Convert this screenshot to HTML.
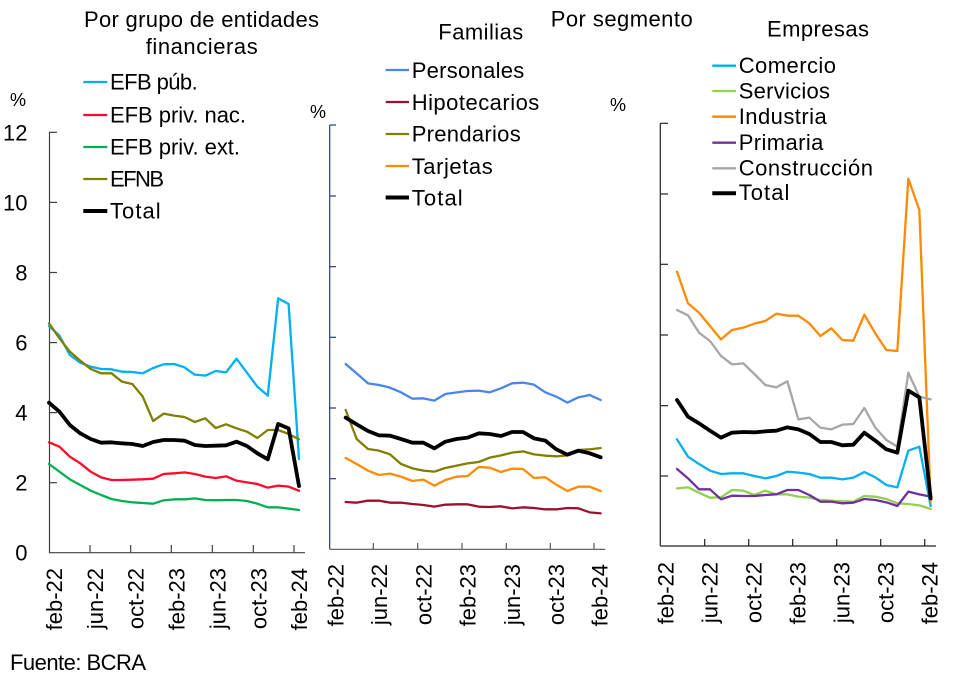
<!DOCTYPE html>
<html><head><meta charset="utf-8">
<style>
html,body{margin:0;padding:0;background:#fff;}
svg{display:block;}
text{font-family:"Liberation Sans",Arial,sans-serif;fill:#000;}
.s{fill:none;stroke-width:2.3;stroke-linejoin:round;stroke-linecap:round;}
.t{fill:none;stroke:#000;stroke-width:3.8;stroke-linejoin:round;stroke-linecap:round;}
</style></head>
<body>
<svg width="960" height="675" viewBox="0 0 960 675" xmlns="http://www.w3.org/2000/svg">
<rect width="960" height="675" fill="#fff"/>

<!-- Titles -->
<text x="84" y="27" font-size="22" textLength="235" lengthAdjust="spacing">Por grupo de entidades</text>
<text x="145.7" y="54" font-size="22" textLength="112" lengthAdjust="spacing">financieras</text>
<text x="550.7" y="26.7" font-size="22" textLength="142" lengthAdjust="spacing">Por segmento</text>
<text x="438.3" y="39.3" font-size="22" textLength="85" lengthAdjust="spacing">Familias</text>
<text x="767" y="36.5" font-size="22" textLength="102" lengthAdjust="spacing">Empresas</text>

<!-- % labels -->
<text x="10" y="106" font-size="18">%</text>
<text x="310" y="118" font-size="18">%</text>
<text x="610" y="111" font-size="18">%</text>

<!-- LEFT legend -->
<g stroke-width="2.3">
<line x1="83.3" y1="82" x2="107.3" y2="82" stroke="#00b0f0"/>
<line x1="83.3" y1="115" x2="107.3" y2="115" stroke="#ff0a2a"/>
<line x1="83.3" y1="147" x2="107.3" y2="147" stroke="#00b050"/>
<line x1="83.3" y1="179" x2="107.3" y2="179" stroke="#7f7f00"/>
</g>
<line x1="83.3" y1="211" x2="107.3" y2="211" stroke="#000" stroke-width="4"/>
<g font-size="22">
<text x="110" y="89.5" textLength="87.7" lengthAdjust="spacing">EFB púb.</text>
<text x="110" y="122.5" textLength="136" lengthAdjust="spacing">EFB priv. nac.</text>
<text x="110" y="154.5" textLength="130" lengthAdjust="spacing">EFB priv. ext.</text>
<text x="110" y="186.5" textLength="54" lengthAdjust="spacing">EFNB</text>
<text x="110" y="218.5" textLength="50.7" lengthAdjust="spacing">Total</text>
</g>

<!-- MIDDLE legend -->
<g stroke-width="2.3">
<line x1="385.7" y1="70" x2="409" y2="70" stroke="#4a86e8"/>
<line x1="385.7" y1="102" x2="409" y2="102" stroke="#9b0f2f"/>
<line x1="385.7" y1="134" x2="409" y2="134" stroke="#7f7f00"/>
<line x1="385.7" y1="166" x2="409" y2="166" stroke="#ff8c00"/>
</g>
<line x1="385.7" y1="197.5" x2="409" y2="197.5" stroke="#000" stroke-width="4"/>
<g font-size="22">
<text x="411.7" y="78" textLength="112.6" lengthAdjust="spacing">Personales</text>
<text x="411.7" y="110" textLength="127.6" lengthAdjust="spacing">Hipotecarios</text>
<text x="411.7" y="141.7" textLength="109" lengthAdjust="spacing">Prendarios</text>
<text x="411.7" y="174" textLength="81" lengthAdjust="spacing">Tarjetas</text>
<text x="411.7" y="205.7" textLength="51" lengthAdjust="spacing">Total</text>
</g>

<!-- RIGHT legend -->
<g stroke-width="2.3">
<line x1="712.3" y1="65.7" x2="736" y2="65.7" stroke="#00b0f0"/>
<line x1="712.3" y1="91" x2="736" y2="91" stroke="#92d050"/>
<line x1="712.3" y1="116.7" x2="736" y2="116.7" stroke="#ff8a00"/>
<line x1="712.3" y1="142.7" x2="736" y2="142.7" stroke="#7030a0"/>
<line x1="712.3" y1="168.3" x2="736" y2="168.3" stroke="#a6a6a6"/>
</g>
<line x1="712.3" y1="193.3" x2="736" y2="193.3" stroke="#000" stroke-width="4"/>
<g font-size="22">
<text x="738.7" y="73" textLength="97.3" lengthAdjust="spacing">Comercio</text>
<text x="738.7" y="98.7" textLength="91.3" lengthAdjust="spacing">Servicios</text>
<text x="738.7" y="124" textLength="88" lengthAdjust="spacing">Industria</text>
<text x="738.7" y="150" textLength="84.7" lengthAdjust="spacing">Primaria</text>
<text x="738.7" y="175.5" textLength="134.3" lengthAdjust="spacing">Construcción</text>
<text x="738.7" y="200" textLength="50.7" lengthAdjust="spacing">Total</text>
</g>

<!-- LEFT axes -->
<g stroke="#404040" stroke-width="1.2" fill="none">
<line x1="49.5" y1="132" x2="49.5" y2="553"/>
<line x1="49" y1="552.7" x2="305" y2="552.7"/>
<line x1="49" y1="132.3" x2="57" y2="132.3"/>
<line x1="49" y1="202.4" x2="57" y2="202.4"/>
<line x1="49" y1="272.5" x2="57" y2="272.5"/>
<line x1="49" y1="342.6" x2="57" y2="342.6"/>
<line x1="49" y1="412.6" x2="57" y2="412.6"/>
<line x1="49" y1="482.7" x2="57" y2="482.7"/>
<line x1="90" y1="545" x2="90" y2="552.7"/>
<line x1="130.7" y1="545" x2="130.7" y2="552.7"/>
<line x1="171.3" y1="545" x2="171.3" y2="552.7"/>
<line x1="212.3" y1="545" x2="212.3" y2="552.7"/>
<line x1="253.3" y1="545" x2="253.3" y2="552.7"/>
<line x1="294" y1="545" x2="294" y2="552.7"/>
</g>
<g font-size="22" text-anchor="end">
<text x="27.5" y="140.3">12</text>
<text x="27.5" y="210.3">10</text>
<text x="27.5" y="280.5">8</text>
<text x="27.5" y="350.5">6</text>
<text x="27.5" y="420.5">4</text>
<text x="27.5" y="490.5">2</text>
<text x="27.5" y="560.5">0</text>
</g>

<!-- MIDDLE axes -->
<g stroke-width="1.2" fill="none">
<line x1="329.7" y1="125" x2="329.7" y2="549.3" stroke="#24406e"/>
<g stroke="#24406e">
<line x1="329.7" y1="125" x2="336" y2="125"/>
<line x1="329.7" y1="196" x2="336" y2="196"/>
<line x1="329.7" y1="266.7" x2="336" y2="266.7"/>
<line x1="329.7" y1="337.3" x2="336" y2="337.3"/>
<line x1="329.7" y1="408" x2="336" y2="408"/>
<line x1="329.7" y1="478.7" x2="336" y2="478.7"/>
</g>
<g stroke="#555">
<line x1="329.7" y1="549.3" x2="605.3" y2="549.3"/>
<line x1="373.3" y1="543" x2="373.3" y2="549.3"/>
<line x1="417.7" y1="543" x2="417.7" y2="549.3"/>
<line x1="462" y1="543" x2="462" y2="549.3"/>
<line x1="506.3" y1="543" x2="506.3" y2="549.3"/>
<line x1="550.3" y1="543" x2="550.3" y2="549.3"/>
<line x1="594" y1="543" x2="594" y2="549.3"/>
</g>
</g>

<!-- RIGHT axes -->
<g stroke="#222" stroke-width="1.2" fill="none">
<line x1="660.3" y1="123.3" x2="660.3" y2="546"/>
<line x1="660.3" y1="546" x2="936" y2="546"/>
<line x1="660.3" y1="123.3" x2="668" y2="123.3"/>
<line x1="660.3" y1="194" x2="668" y2="194"/>
<line x1="660.3" y1="264.3" x2="668" y2="264.3"/>
<line x1="660.3" y1="335" x2="668" y2="335"/>
<line x1="660.3" y1="405.7" x2="668" y2="405.7"/>
<line x1="660.3" y1="476" x2="668" y2="476"/>
<line x1="704.7" y1="539" x2="704.7" y2="546"/>
<line x1="748.7" y1="539" x2="748.7" y2="546"/>
<line x1="792.7" y1="539" x2="792.7" y2="546"/>
<line x1="836.7" y1="539" x2="836.7" y2="546"/>
<line x1="880.7" y1="539" x2="880.7" y2="546"/>
<line x1="924.7" y1="539" x2="924.7" y2="546"/>
</g>

<!-- X labels -->
<g font-size="22" text-anchor="end">
<text transform="translate(62,568) rotate(-90)">feb-22</text>
<text transform="translate(103,568) rotate(-90)">jun-22</text>
<text transform="translate(143.7,568) rotate(-90)">oct-22</text>
<text transform="translate(184.3,568) rotate(-90)">feb-23</text>
<text transform="translate(225.3,568) rotate(-90)">jun-23</text>
<text transform="translate(266.3,568) rotate(-90)">oct-23</text>
<text transform="translate(307,568) rotate(-90)">feb-24</text>

<text transform="translate(343.3,564) rotate(-90)">feb-22</text>
<text transform="translate(386.9,564) rotate(-90)">jun-22</text>
<text transform="translate(431.3,564) rotate(-90)">oct-22</text>
<text transform="translate(475.6,564) rotate(-90)">feb-23</text>
<text transform="translate(519.9,564) rotate(-90)">jun-23</text>
<text transform="translate(563.9,564) rotate(-90)">oct-23</text>
<text transform="translate(607.6,564) rotate(-90)">feb-24</text>

<text transform="translate(673.3,562) rotate(-90)">feb-22</text>
<text transform="translate(717.7,562) rotate(-90)">jun-22</text>
<text transform="translate(761.7,562) rotate(-90)">oct-22</text>
<text transform="translate(805.7,562) rotate(-90)">feb-23</text>
<text transform="translate(849.7,562) rotate(-90)">jun-23</text>
<text transform="translate(893.7,562) rotate(-90)">oct-23</text>
<text transform="translate(937.7,562) rotate(-90)">feb-24</text>
</g>

<text x="10" y="670" font-size="22" textLength="136" lengthAdjust="spacing">Fuente: BCRA</text>

<!-- LEFT series -->
<g transform="translate(45,290) scale(0.333333)">
<polyline class="s" vector-effect="non-scaling-stroke" stroke="#00b0f0" points="12,108 43.3,137 74.5,195 105.8,218 137,230 168.3,237 199.5,238 230.8,245 262,246 293.3,250 324.5,234 355.8,223 387,222 418.3,232 449.5,254 480.8,257 512,243 543.3,247 574.5,206 605.8,248 637,290 668.3,317 699.5,25 730.8,42 762,507"/>
<polyline class="s" vector-effect="non-scaling-stroke" stroke="#ff0a2a" points="12,457 43.3,470 74.5,500 105.8,520 137,545 168.3,562 199.5,570 230.8,570 262,569 293.3,568 324.5,566 355.8,552 387,550 418.3,547 449.5,552 480.8,560 512,564 543.3,559 574.5,572 605.8,577 637,582 668.3,593 699.5,587 730.8,590 762,602"/>
<polyline class="s" vector-effect="non-scaling-stroke" stroke="#00b050" points="12,522 43.3,545 74.5,568 105.8,585 137,602 168.3,615 199.5,627 230.8,633 262,637 293.3,639 324.5,641 355.8,631 387,628 418.3,628 449.5,625 480.8,630 512,631 543.3,630 574.5,630 605.8,633 637,641 668.3,652 699.5,652 730.8,656 762,660"/>
<polyline class="s" vector-effect="non-scaling-stroke" stroke="#7f7f00" points="12,100 43.3,145 74.5,185 105.8,212 137,237 168.3,250 199.5,250 230.8,275 262,282 293.3,320 324.5,393 355.8,371 387,377 418.3,381 449.5,396 480.8,385 512,414 543.3,403 574.5,415 605.8,425 637,444 668.3,420 699.5,420 730.8,432 762,448"/>
<polyline class="t" vector-effect="non-scaling-stroke" points="12,338 43.3,365 74.5,405 105.8,430 137,447 168.3,458 199.5,457 230.8,460 262,462 293.3,468 324.5,456 355.8,450 387,450 418.3,452 449.5,465 480.8,468 512,467 543.3,466 574.5,455 605.8,468 637,490 668.3,508 699.5,402 730.8,415 762,588"/>
</g>

<!-- MIDDLE series -->
<g transform="translate(300,80) scale(0.333333)">
<polyline class="s" vector-effect="non-scaling-stroke" stroke="#4a86e8" points="137,852 170,880 204,910 237,915 270,923 303,937 337,956 370,955 403,962 436,942 470,937 503,933 536,932 569,937 603,925 636,910 669,908 702,914 736,937 769,950 802,968 835,952 869,945 902,960"/>
<polyline class="s" vector-effect="non-scaling-stroke" stroke="#9b0f2f" points="137,1266 170,1268 204,1262 237,1262 270,1268 303,1268 337,1272 370,1275 403,1280 436,1274 470,1273 503,1273 536,1280 569,1281 603,1279 636,1285 669,1282 702,1284 736,1288 769,1288 802,1284 835,1285 869,1297 902,1300"/>
<polyline class="s" vector-effect="non-scaling-stroke" stroke="#7f7f00" points="137,990 170,1077 204,1107 237,1112 270,1123 303,1152 337,1165 370,1172 403,1175 436,1164 470,1157 503,1150 536,1146 569,1133 603,1126 636,1118 669,1114 702,1123 736,1127 769,1129 802,1126 835,1110 869,1108 902,1104"/>
<polyline class="s" vector-effect="non-scaling-stroke" stroke="#ff8c00" points="137,1134 170,1152 204,1172 237,1185 270,1181 303,1190 337,1203 370,1199 403,1217 436,1200 470,1190 503,1188 536,1161 569,1163 603,1176 636,1166 669,1167 702,1194 736,1192 769,1214 802,1233 835,1220 869,1220 902,1233"/>
<polyline class="t" vector-effect="non-scaling-stroke" points="137,1013 170,1033 204,1053 237,1066 270,1067 303,1077 337,1088 370,1088 403,1105 436,1085 470,1077 503,1073 536,1060 569,1062 603,1068 636,1056 669,1056 702,1075 736,1082 769,1108 802,1124 835,1112 869,1120 902,1132"/>
</g>

<!-- RIGHT series -->
<g transform="translate(630,80) scale(0.333333)">
<polyline class="s" vector-effect="non-scaling-stroke" stroke="#00b0f0" points="141,1078 174,1130 207,1152 240,1172 273,1182 306,1180 340,1180 373,1188 406,1195 439,1188 472,1175 505,1178 538,1182 571,1193 604,1193 637,1198 670,1193 703,1176 736,1192 769,1215 802,1222 835,1112 868,1100 902,1278"/>
<polyline class="s" vector-effect="non-scaling-stroke" stroke="#92d050" points="141,1225 174,1222 207,1238 240,1253 273,1252 306,1230 340,1232 373,1245 406,1232 439,1243 472,1243 505,1250 538,1253 571,1260 604,1262 637,1264 670,1265 703,1248 736,1250 769,1257 802,1270 835,1272 868,1276 902,1287"/>
<polyline class="s" vector-effect="non-scaling-stroke" stroke="#ff8a00" points="141,575 174,670 207,698 240,738 273,778 306,750 340,743 373,731 406,723 439,701 472,707 505,707 538,730 571,768 604,745 637,780 670,782 703,704 736,760 769,810 802,813 835,296 868,390 902,1265"/>
<polyline class="s" vector-effect="non-scaling-stroke" stroke="#7030a0" points="141,1167 174,1195 207,1228 240,1228 273,1258 306,1247 340,1248 373,1248 406,1245 439,1243 472,1230 505,1230 538,1245 571,1265 604,1265 637,1270 670,1268 703,1257 736,1260 769,1267 802,1278 835,1235 868,1243 902,1250"/>
<polyline class="s" vector-effect="non-scaling-stroke" stroke="#a6a6a6" points="141,690 174,706 207,758 240,783 273,828 306,853 340,850 373,882 406,915 439,922 472,904 505,1018 538,1013 571,1043 604,1048 637,1034 670,1032 703,984 736,1043 769,1080 802,1100 835,878 868,950 902,958"/>
<polyline class="t" vector-effect="non-scaling-stroke" points="141,960 174,1010 207,1030 240,1052 273,1073 306,1058 340,1056 373,1057 406,1054 439,1052 472,1042 505,1048 538,1062 571,1086 604,1086 637,1096 670,1094 703,1058 736,1082 769,1108 802,1118 835,932 868,952 902,1255"/>
</g>
</svg>
</body></html>
